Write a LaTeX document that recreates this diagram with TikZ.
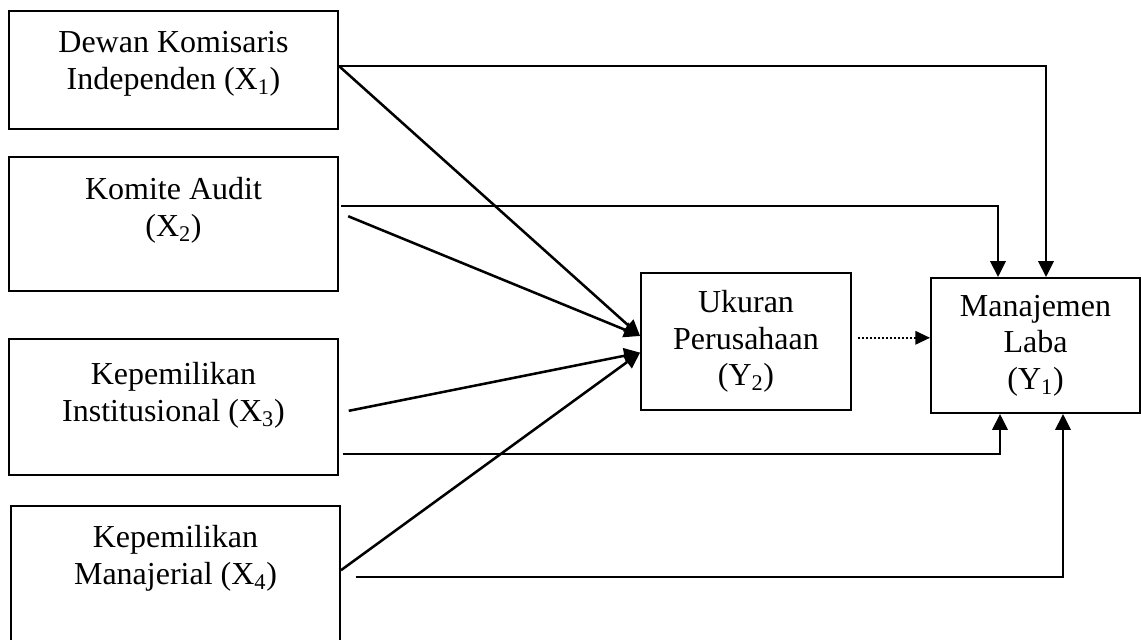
\documentclass[tikz,border=0pt]{standalone}
\usepackage{fontspec}
\setmainfont{Liberation Serif}
\usetikzlibrary{arrows.meta}

\newcommand{\varfont}{\fontsize{24}{27.5}\selectfont}

\tikzset{every picture/.style={line width=0.75pt}}
\tikzset{
  varbox/.style={draw, line width=1.4pt, minimum width=246.75pt, inner sep=0pt},
  ybox/.style={draw, line width=1.4pt, align=center, inner sep=0pt, font=\varfont},
  vartext/.style={anchor=north, align=center, inner sep=0pt, font=\varfont},
  link/.style={line width=1.9pt, -{Triangle[length=12pt,width=11.5pt]}},
  dotlink/.style={line width=1.5pt, dash pattern=on 1.5pt off 1.5pt, -{Triangle[length=11pt,width=10pt]}},
}

\begin{document}
\begin{tikzpicture}[x=0.75pt,y=0.75pt,yscale=-1,xscale=1]
    \path[use as bounding box] (0,0) rectangle (1141,639);

    %Shape: Rectangle (independent variables)
    \node[varbox, minimum height=88.5pt] (x1) at (173.5,70) {};
    \node[varbox, minimum height=100.5pt] (x2) at (173.5,224) {};
    \node[varbox, minimum height=102pt] (x3) at (173.5,407) {};
    \node[varbox, minimum height=105pt] (x4) at (175.5,576) {};

    % Text Node
    \node[vartext] (x1t) at (173.5,31) {Dewan Komisaris\\Independen (X\textsubscript{1})};
    % Text Node
    \node[vartext] (x2t) at (173.5,177) {Komite Audit\\(X\textsubscript{2})};
    % Text Node
    \node[vartext] (x3t) at (173.5,362) {Kepemilikan\\Institusional (X\textsubscript{3})};
    % Text Node
    \node[vartext] (x4t) at (175.5,525) {Kepemilikan\\Manajerial (X\textsubscript{4})};

    %Shape: Rectangle (intervening and dependent variable)
    \node[ybox, minimum width=157.5pt, minimum height=102.75pt] (y2) at (746,341.5) {Ukuran\\Perusahaan\\(Y\textsubscript{2})};
    \node[ybox, minimum width=156.75pt, minimum height=101.25pt] (y1) at (1035.5,345.5) {Manajemen\\Laba\\(Y\textsubscript{1})};

    %Bends of the direct paths
    \coordinate (b1) at (1046,66);
    \coordinate (b2) at (998,206);
    \coordinate (b3) at (1000,454);
    \coordinate (b4) at (1063,577);

    %Straight Lines: direct effects on Y1
    \draw[link] (b1 -| x1.east) -- (b1) -- (b1 |- y1.north);
    \draw[link, shorten <=1.5pt] (b2 -| x2.east) -- (b2) -- (b2 |- y1.north);
    \draw[link, shorten <=3pt] (b3 -| x3.east) -- (b3) -- (b3 |- y1.south);
    \draw[link, shorten <=11pt] (b4 -| x4.east) -- (b4) -- (b4 |- y1.south);

    %Straight Lines: effects on Y2
    \draw[link] (b1 -| x1.east) -- (y2.177);
    \draw[link, shorten <=7.5pt] (x2.4) -- (y2.177);
    \draw[link, shorten <=7.5pt] (x3.-2) -- (y2.186);
    \draw[link] (x4.2) -- (y2.186);

    %Dotted line Y2 to Y1
    \draw[dotlink, shorten <=4.5pt] (y2.2) -- (y2.2 -| y1.west);

\end{tikzpicture}
\end{document}
